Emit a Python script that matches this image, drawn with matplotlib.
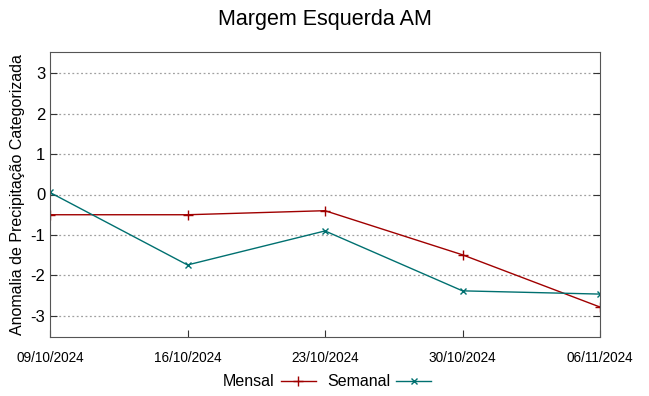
import matplotlib
matplotlib.use("Agg")
import matplotlib.pyplot as plt

dates = ["09/10/2024", "16/10/2024", "23/10/2024", "30/10/2024", "06/11/2024"]
mensal = [-0.5, -0.5, -0.4, -1.49, -2.78]
semanal = [0.05, -1.74, -0.9, -2.38, -2.46]
yticks = [-3, -2, -1, 0, 1, 2, 3]

plt.rcParams['font.family'] = ['Liberation Sans', 'DejaVu Sans']

fig = plt.figure(figsize=(6.49, 3.96), dpi=100)
ax = fig.add_axes([50/649, 1-337/396, 550/649, 285/396])
x = list(range(len(dates)))
ax.plot(x, mensal, color='#a00000', lw=1, marker='+', ms=7, mew=1, label='Mensal')
ax.plot(x, semanal, color='#007070', lw=1, marker='x', ms=5, mew=1, label='Semanal')
ax.set_xlim(0, 4)
ax.set_ylim(-3.52, 3.52)
ax.set_yticks(yticks)
ax.set_yticklabels([str(v) for v in yticks], fontsize=12)
ax.set_xticks(x)
ax.set_xticklabels(dates, fontsize=9.8)
ax.yaxis.grid(True, linestyle=(0, (1.5, 2)), color='#a0a0a0', lw=0.9)
ax.tick_params(direction='in', length=5, right=True, top=False, color='#333333')
ax.tick_params(axis='x', pad=10)
for s in ax.spines.values():
    s.set_color('#555555')
ax.set_ylabel('Anomalia de Precipitação Categorizada', fontsize=11.5)
ax.yaxis.set_label_coords(-0.046, 0.5)
fig.text(0.5, 1-20/396, 'Margem Esquerda AM', ha='center', va='center', fontsize=15.5)
leg = fig.legend(loc='center', bbox_to_anchor=(327/649, 1-382/396), ncol=2, frameon=False,
                 markerfirst=False, handlelength=2.2, columnspacing=0.7,
                 handletextpad=0.4, prop={'size': 11.5})
fig.savefig('out.png', dpi=100)
